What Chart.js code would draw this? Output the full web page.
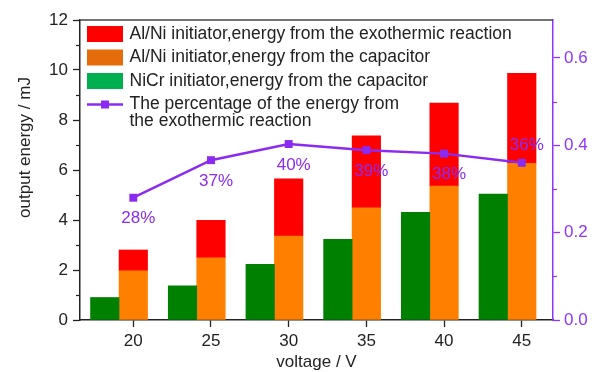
<!DOCTYPE html>
<html>
<head>
<meta charset="utf-8">
<script src="https://cdn.jsdelivr.net/npm/chart.js@4/dist/chart.umd.min.js"></script>
<style>
    html, body { margin: 0; padding: 0; background: #fff; }
    #wrap { width: 601px; height: 372px; position: relative; }
</style>
</head>
<body>
<div id="wrap"><canvas id="energyChart"></canvas></div>
<script>
// Values
const voltages = [20, 25, 30, 35, 40, 45];
const niCrCapacitor = [0.9, 1.37, 2.23, 3.23, 4.31, 5.04];
const alNiCapacitor = [1.97, 2.49, 3.36, 4.49, 5.36, 6.27];
const alNiExothermic = [0.83, 1.5, 2.29, 2.88, 3.32, 3.6];
const exothermicShare = [0.28, 0.366, 0.403, 0.389, 0.381, 0.36];
const energyTicks = [0, 2, 4, 6, 8, 10, 12];
const shareTicks = [0, 0.2, 0.4, 0.6];

const legendLabels = [
    'Al/Ni initiator,energy from the exothermic reaction',
    'Al/Ni initiator,energy from the capacitor',
    'NiCr initiator,energy from the capacitor',
    ['The percentage of the energy from', 'the exothermic reaction']
];

const FONT = '"Liberation Sans", Arial, sans-serif';
const DARK = '#222';
const VIOLET = '#8B2BF2';
const AXIS_VIOLET = '#9233FF';

// which percentage label sits above its point instead of below
const labelAbove = [false, false, false, false, false, true];

function points(values) {
    return voltages.map((v, i) => ({ x: v, y: values[i] }));
}

function midpoints(ticks) {
    const out = [];
    for (let i = 1; i < ticks.length; i++) out.push((ticks[i - 1] + ticks[i]) / 2);
    return out;
}

const decorPlugin = {
    id: 'decor',
    afterDatasetsDraw(chart) {
        const ctx = chart.ctx;
        const meta = chart.getDatasetMeta(4);
        ctx.save();
        ctx.font = `17px ${FONT}`;
        ctx.fillStyle = VIOLET;
        ctx.textAlign = 'center';
        ctx.textBaseline = 'middle';
        meta.data.forEach((pt, i) => {
            const txt = Math.round(exothermicShare[i] * 100) + '%';
            ctx.fillText(txt, pt.x + 5, pt.y + (labelAbove[i] ? -17 : 21));
        });
        ctx.restore();
    },
    afterDraw(chart) {
        const ctx = chart.ctx;
        const { left, right, top, bottom } = chart.chartArea;
        const yScale = chart.scales.y;
        const y1Scale = chart.scales.y1;

        ctx.save();
        // top frame
        ctx.strokeStyle = '#444';
        ctx.lineWidth = 1.5;
        ctx.beginPath();
        ctx.moveTo(left, top);
        ctx.lineTo(right, top);
        ctx.stroke();

        // minor ticks
        ctx.lineWidth = 1.2;
        ctx.strokeStyle = DARK;
        midpoints(energyTicks).forEach(v => {
            const py = Math.round(yScale.getPixelForValue(v)) + 0.5;
            ctx.beginPath();
            ctx.moveTo(left - 4, py);
            ctx.lineTo(left, py);
            ctx.stroke();
        });
        ctx.strokeStyle = AXIS_VIOLET;
        midpoints(shareTicks).forEach(v => {
            const py = Math.round(y1Scale.getPixelForValue(v)) + 0.5;
            ctx.beginPath();
            ctx.moveTo(right, py);
            ctx.lineTo(right + 4, py);
            ctx.stroke();
        });

        // axis titles
        ctx.fillStyle = DARK;
        ctx.font = `17px ${FONT}`;
        ctx.textAlign = 'center';
        ctx.textBaseline = 'middle';
        ctx.fillText('voltage / V', (left + right) / 2, 362);
        ctx.save();
        ctx.translate(25.5, 147.5);
        ctx.rotate(-Math.PI / 2);
        ctx.fillText('output energy / mJ', 0, 0);
        ctx.restore();

        // legend
        const boxColors = ['#FF0000', '#E46C0A', '#00B050'];
        const boxX = 87, boxW = 36, boxH = 16, textX = 129.5;
        const rowY = [34, 57.5, 81, 104.5];
        ctx.font = `17.5px ${FONT}`;
        ctx.textAlign = 'left';
        boxColors.forEach((c, i) => {
            ctx.fillStyle = c;
            ctx.fillRect(boxX, rowY[i] - boxH / 2, boxW, boxH);
        });
        ctx.strokeStyle = VIOLET;
        ctx.lineWidth = 2.5;
        ctx.beginPath();
        ctx.moveTo(boxX, rowY[3]);
        ctx.lineTo(boxX + boxW, rowY[3]);
        ctx.stroke();
        ctx.fillStyle = VIOLET;
        ctx.fillRect(boxX + boxW / 2 - 4, rowY[3] - 4, 8, 8);

        ctx.fillStyle = DARK;
        legendLabels.forEach((label, i) => {
            const lines = Array.isArray(label) ? label : [label];
            lines.forEach((line, j) => ctx.fillText(line, textX, rowY[i] + j * 16.5));
        });
        ctx.restore();
    }
};

const ctx = document.getElementById('energyChart').getContext('2d');
new Chart(ctx, {
    type: 'bar',
    data: {
        datasets: [
            { label: legendLabels[2], data: points(niCrCapacitor), backgroundColor: '#008000', stack: 'nicr' },
            { label: legendLabels[1], data: points(alNiCapacitor), backgroundColor: '#FF8000', stack: 'alni' },
            { label: legendLabels[0], data: points(alNiExothermic), backgroundColor: '#FF0000', stack: 'alni' },
            // empty slot so the Al/Ni bar is centred on the tick
            { label: '', data: voltages.map(v => ({ x: v, y: null })), stack: 'spacer' },
            {
                type: 'line',
                label: legendLabels[3].join(' '),
                data: points(exothermicShare),
                yAxisID: 'y1',
                order: -1,
                borderColor: VIOLET,
                backgroundColor: VIOLET,
                borderWidth: 2.5,
                pointStyle: 'rect',
                pointRadius: 5.6,
                pointBorderWidth: 0,
                tension: 0
            }
        ]
    },
    options: {
        responsive: true,
        maintainAspectRatio: false,
        animation: false,
        datasets: { bar: { barThickness: 28.5, borderWidth: 0 } },
        layout: { padding: { top: 20, left: 0, right: 0, bottom: 0 } },
        plugins: { legend: { display: false }, tooltip: { enabled: false } },
        scales: {
            x: {
                type: 'linear',
                min: 16.57,
                max: 47.01,
                offset: false,
                stacked: true,
                afterBuildTicks: s => { s.ticks = voltages.map(v => ({ value: v })); },
                afterFit: s => { s.height = 52; },
                grid: { offset: false, drawOnChartArea: false, tickLength: 7, tickColor: DARK, tickWidth: 1.3 },
                border: { color: DARK, width: 1.5 },
                ticks: { color: DARK, font: { family: FONT, size: 17 }, padding: 4, maxRotation: 0, autoSkip: false }
            },
            y: {
                position: 'left',
                stacked: true,
                min: 0,
                max: 12,
                afterBuildTicks: s => { s.ticks = energyTicks.map(v => ({ value: v })); },
                afterFit: s => { s.width = 80; },
                grid: { drawOnChartArea: false, tickLength: 7, tickColor: DARK, tickWidth: 1.3 },
                border: { color: DARK, width: 1.5 },
                ticks: { color: DARK, font: { family: FONT, size: 17 }, padding: 5 }
            },
            y1: {
                position: 'right',
                min: 0,
                max: 0.687,
                afterBuildTicks: s => { s.ticks = shareTicks.map(v => ({ value: v })); },
                afterFit: s => { s.width = 48; },
                grid: { drawOnChartArea: false, tickLength: 7, tickColor: AXIS_VIOLET, tickWidth: 1.3 },
                border: { color: AXIS_VIOLET, width: 1.5 },
                ticks: { color: AXIS_VIOLET, font: { family: FONT, size: 17 }, padding: 4, callback: v => v.toFixed(1) }
            }
        }
    },
    plugins: [decorPlugin]
});
</script>
</body>
</html>
